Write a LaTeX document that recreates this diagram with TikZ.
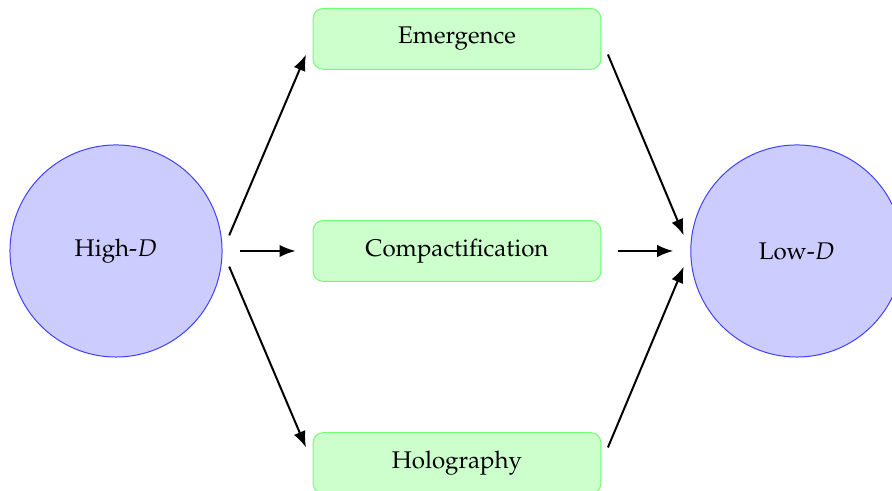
\documentclass[tikz,border=0pt]{standalone}
\usepackage[T1]{fontenc}
\usepackage{mathpazo}
\usepackage{tikz}
\usetikzlibrary{arrows.meta}
\tikzset{
	dimnode/.style={circle, draw=blue!75, fill=blue!20, minimum size=3cm, font=\fontsize{9.7}{11.6}\selectfont},
	routebox/.style={rectangle, rounded corners=4pt, draw=green!55, fill=green!20, minimum width=4.07cm, minimum height=0.86cm, font=\fontsize{9.7}{11.6}\selectfont},
	flowarrow/.style={thick, -{Latex[length=6.5pt,width=5pt]}, shorten <=0.24cm, shorten >=0.24cm}
}

\begin{document}
\begin{tikzpicture}
		%%%%% START %%%%%
		
		\useasboundingbox (-1.641, 3.55) rectangle (10.976, -3.381);
		
		\node[dimnode] (high) at (0, 0) {High-$D$};
		\node[dimnode] (low) at (9.63, 0) {Low-$D$};
		
		\node[routebox] (emergence) at (4.823, 3) {Emergence};
		\node[routebox] (compact) at (4.823, 0) {Compactification};
		\node[routebox] (holo) at (4.823, -3) {Holography};
		
		\draw[flowarrow] (high.east) -- (emergence.west);
		\draw[flowarrow] (high.east) -- (compact.west);
		\draw[flowarrow] (high.east) -- (holo.west);
		
		\draw[flowarrow] (emergence.east) -- (low.west);
		\draw[flowarrow] (compact.east) -- (low.west);
		\draw[flowarrow] (holo.east) -- (low.west);
		
		%%%%% END %%%%%
	\end{tikzpicture}
\end{document}
